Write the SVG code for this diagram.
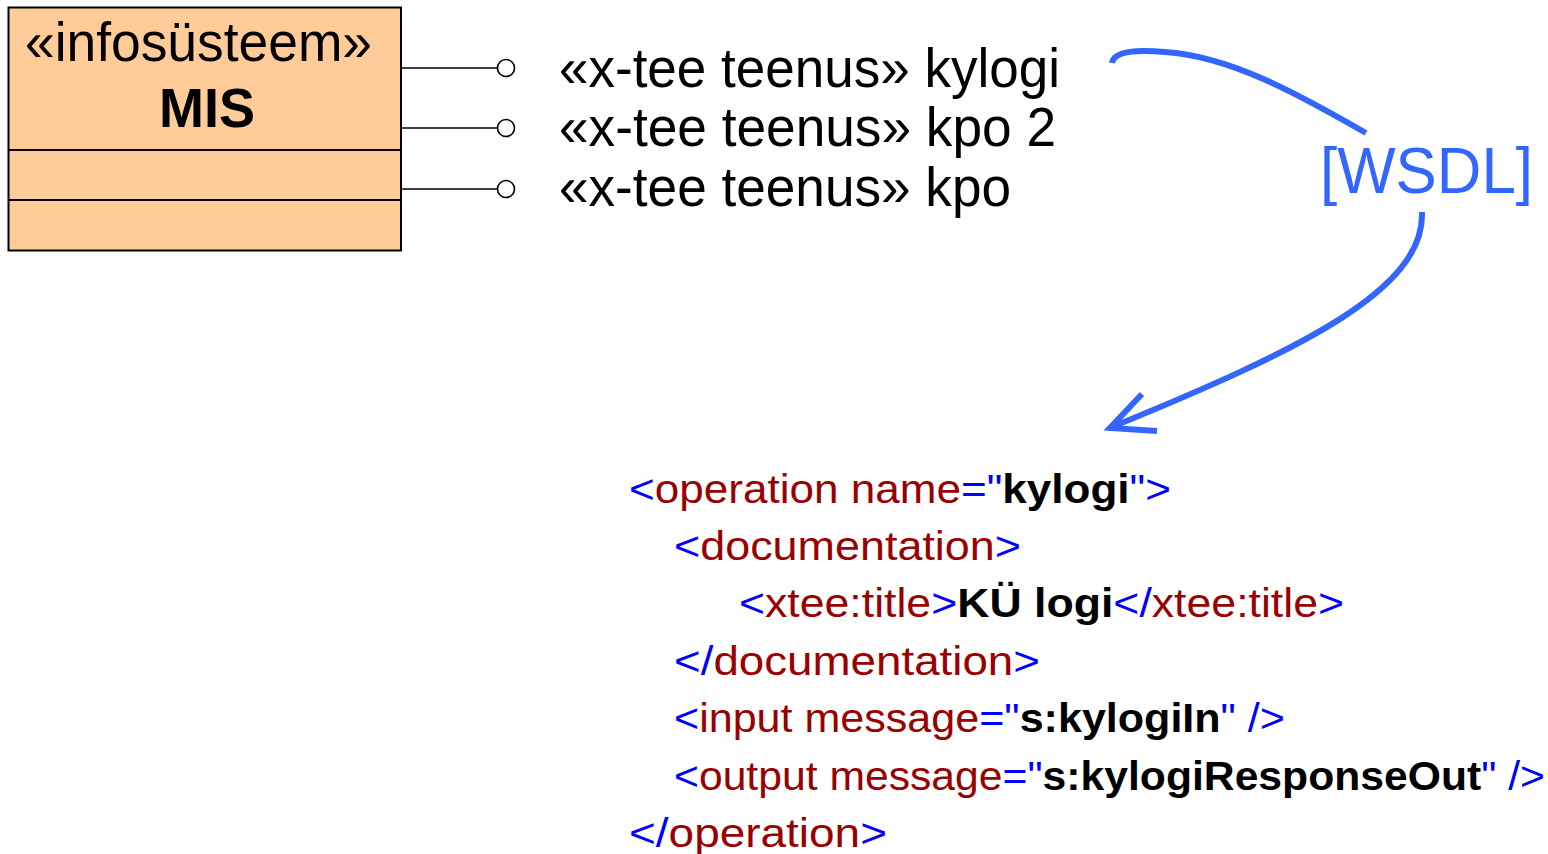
<svg xmlns="http://www.w3.org/2000/svg" width="1548" height="854" viewBox="0 0 1548 854">
<style>
.uml{font-family:"Liberation Sans",Arial,sans-serif;fill:#000}
.code{font-family:"Liberation Sans Narrow","Liberation Sans",sans-serif;font-size:40px}
.b{fill:#0000FF}
.r{fill:#990000}
.k{fill:#000;font-weight:bold}
.conn{stroke:#000;stroke-width:1.6;fill:none}
.lolly{stroke:#000;stroke-width:1.6;fill:#fff}
.wsdl{stroke:#3366FF;stroke-width:6;fill:none}
</style>
<rect width="1548" height="854" fill="#fff"/>
<g id="node-MIS">
<rect x="8.5" y="7.5" width="392.5" height="243" fill="#FFCC99" stroke="#000" stroke-width="2"/>
<line x1="8.5" y1="150" x2="401" y2="150" stroke="#000" stroke-width="2"/>
<line x1="8.5" y1="200" x2="401" y2="200" stroke="#000" stroke-width="2"/>
<text class="uml" x="25" y="61" font-size="56" textLength="347" lengthAdjust="spacingAndGlyphs">«infosüsteem»</text>
<text class="uml" x="159" y="127" font-size="56" font-weight="bold" textLength="96" lengthAdjust="spacingAndGlyphs">MIS</text>
</g>
<g id="connectors">
<line class="conn" x1="401" y1="68" x2="497" y2="68"/>
<line class="conn" x1="401" y1="128" x2="497" y2="128"/>
<line class="conn" x1="401" y1="189" x2="497" y2="189"/>
<path class="wsdl" d="M1112,63 C1114,50 1140,50 1165,52 C1230,56 1300,95 1366,133"/>
<path class="wsdl" d="M1422,212 C1425,290 1300,350 1112,427"/>
<path class="wsdl" d="M1142,394 L1110,428 L1157,431" stroke-linejoin="miter"/>
</g>
<g id="iface-kylogi">
<circle class="lolly" cx="506" cy="68" r="8.5"/>
<text class="uml" x="559" y="87" font-size="56" textLength="501" lengthAdjust="spacingAndGlyphs">«x-tee teenus» kylogi</text>
</g>
<g id="iface-kpo2">
<circle class="lolly" cx="506" cy="128" r="8.5"/>
<text class="uml" x="559" y="146" font-size="56" textLength="497" lengthAdjust="spacingAndGlyphs">«x-tee teenus» kpo 2</text>
</g>
<g id="iface-kpo">
<circle class="lolly" cx="506" cy="189" r="8.5"/>
<text class="uml" x="559" y="206" font-size="56" textLength="452" lengthAdjust="spacingAndGlyphs">«x-tee teenus» kpo</text>
</g>
<g id="label-wsdl">
<text x="1320" y="193" font-family="Liberation Sans,Arial,sans-serif" font-size="64" fill="#3366FF" textLength="213" lengthAdjust="spacingAndGlyphs">[WSDL]</text>
</g>
<g id="wsdl-code" class="code">
<text x="629" y="503" textLength="542" lengthAdjust="spacingAndGlyphs"><tspan class="b">&lt;</tspan><tspan class="r">operation name</tspan><tspan class="b">="</tspan><tspan class="k">kylogi</tspan><tspan class="b">"&gt;</tspan></text>
<text x="674" y="560" textLength="347" lengthAdjust="spacingAndGlyphs"><tspan class="b">&lt;</tspan><tspan class="r">documentation</tspan><tspan class="b">&gt;</tspan></text>
<text x="739" y="617" textLength="605" lengthAdjust="spacingAndGlyphs"><tspan class="b">&lt;</tspan><tspan class="r">xtee:title</tspan><tspan class="b">&gt;</tspan><tspan class="k">KÜ logi</tspan><tspan class="b">&lt;/</tspan><tspan class="r">xtee:title</tspan><tspan class="b">&gt;</tspan></text>
<text x="674" y="675" textLength="366" lengthAdjust="spacingAndGlyphs"><tspan class="b">&lt;/</tspan><tspan class="r">documentation</tspan><tspan class="b">&gt;</tspan></text>
<text x="674" y="732" textLength="611" lengthAdjust="spacingAndGlyphs"><tspan class="b">&lt;</tspan><tspan class="r">input message</tspan><tspan class="b">="</tspan><tspan class="k">s:kylogiIn</tspan><tspan class="b">" /&gt;</tspan></text>
<text x="674" y="790" textLength="871" lengthAdjust="spacingAndGlyphs"><tspan class="b">&lt;</tspan><tspan class="r">output message</tspan><tspan class="b">="</tspan><tspan class="k">s:kylogiResponseOut</tspan><tspan class="b">" /&gt;</tspan></text>
<text x="629" y="847" textLength="258" lengthAdjust="spacingAndGlyphs"><tspan class="b">&lt;/</tspan><tspan class="r">operation</tspan><tspan class="b">&gt;</tspan></text>
</g>
</svg>
